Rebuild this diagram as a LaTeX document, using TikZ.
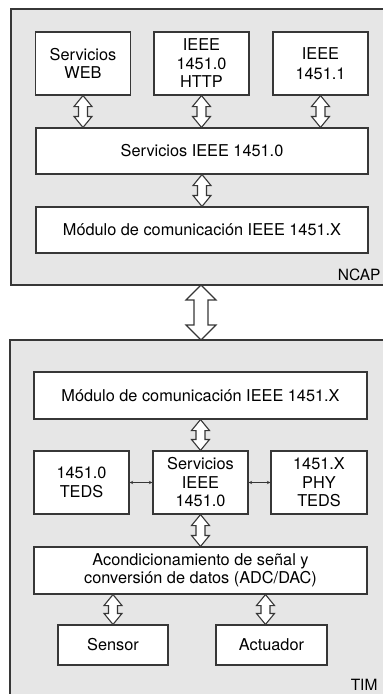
\documentclass[tikz,border=0pt]{standalone}
\usepackage{fontspec}
\setmainfont{TeX Gyre Heros}
\usetikzlibrary{calc}
\definecolor{modgray}{RGB}{230,230,230}
\definecolor{edge}{RGB}{55,55,55}
% hollow double arrow between two points on one vertical:
% #1 top, #2 bottom, #3 half shaft, #4 half head, #5 head length
\newcommand{\dblarrow}[5]{%
\draw[fill=white] let \p1=(#1), \p2=(#2) in
(\x1,\y1) -- (\x1+#4pt,\y1-#5pt) -- (\x1+#3pt,\y1-#5pt) --
(\x1+#3pt,\y2+#5pt) -- (\x1+#4pt,\y2+#5pt) -- (\x1,\y2) --
(\x1-#4pt,\y2+#5pt) -- (\x1-#3pt,\y2+#5pt) -- (\x1-#3pt,\y1-#5pt) --
(\x1-#4pt,\y1-#5pt) -- cycle;}
\begin{document}
\begin{tikzpicture}[x=1pt,y=-1pt,line width=1.1pt,draw=edge,
  every node/.style={font=\fontsize{16.3}{18.5}\selectfont},
  box/.style={draw=edge,fill=white,align=center,inner sep=0pt},
  small/.style={box,minimum width=95pt,minimum height=63pt},
  wide/.style={box,minimum width=333pt,minimum height=47pt},
  unit/.style={draw=edge,fill=modgray},
  unitlabel/.style={anchor=south east,inner sep=0pt,font=\fontsize{15.5}{17}\selectfont}]
\useasboundingbox (0,0) rectangle (383,694);
\clip (0,0) rectangle (383,694);
% NCAP
\draw[unit] (11,9) rectangle (395,285);
\coordinate (ncap) at (201,285);
\node[small] (web) at (83,63.5) {Servicios\\WEB};
\node[small] (http) at (201.5,63.5) {IEEE\\1451.0\\HTTP};
\node[small] (ieee) at (320.5,63.5) {IEEE\\[2pt]1451.1};
\node[wide,minimum width=332pt,minimum height=46pt] (nsrv) at (202,151) {Servicios IEEE 1451.0};
\node[wide,minimum width=332pt,minimum height=46pt] (nmod) at (202,230) {Módulo de comunicación IEEE 1451.X};
\node[unitlabel] (ncaplbl) at (381,281) {NCAP};
\coordinate (webin) at (web.south |- nsrv.north);
\coordinate (httpin) at (http.south |- nsrv.north);
\coordinate (ieeein) at (ieee.south |- nsrv.north);
\dblarrow{web.south}{webin}{4.5}{9}{11}
\dblarrow{http.south}{httpin}{4.5}{9}{11}
\dblarrow{ieee.south}{ieeein}{4.5}{9}{11}
\dblarrow{nsrv.south}{nmod.north}{4.5}{9}{11}
% TIM
\draw[unit] (10,340) rectangle (395,705);
\coordinate (tim) at (201,340);
\node[wide] (tmod) at (200.5,395.5) {Módulo de comunicación IEEE 1451.X};
\node[small] (teds) at (81.5,482.5) {1451.0\\TEDS};
\node[small] (tsrv) at (200.5,482.5) {Servicios\\IEEE\\1451.0};
\node[small,minimum width=96pt] (phy) at (319,482.5) {1451.X\\PHY\\TEDS};
\node[wide] (acond) at (200.5,570.5) {Acondicionamiento de señal y\\conversión de datos (ADC/DAC)};
\node[box,minimum width=110pt,minimum height=40pt] (sensor) at (113,645) {Sensor};
\node[box,minimum width=111pt,minimum height=40pt] (act) at (271.5,645) {Actuador};
\node[unitlabel] (timlbl) at (378,691) {TIM};
\coordinate (acondin) at (tsrv.south |- acond.north);
\coordinate (sensout) at (acond.south -| sensor.north);
\coordinate (actin) at ([xshift=-6pt]act.north);
\coordinate (actout) at (acond.south -| actin);
\dblarrow{tmod.south}{tsrv.north}{4.5}{9}{11}
\dblarrow{tsrv.south}{acondin}{4.5}{9}{11}
\dblarrow{sensout}{sensor.north}{4.5}{9}{11}
\dblarrow{actout}{actin}{4.5}{9}{11}
\draw[<->,line width=0.6pt,>=stealth] (teds) -- (tsrv);
\draw[<->,line width=0.6pt,>=stealth] (tsrv) -- (phy);
% between NCAP and TIM
\dblarrow{ncap}{tim}{7}{15}{15}
\end{tikzpicture}
\end{document}
